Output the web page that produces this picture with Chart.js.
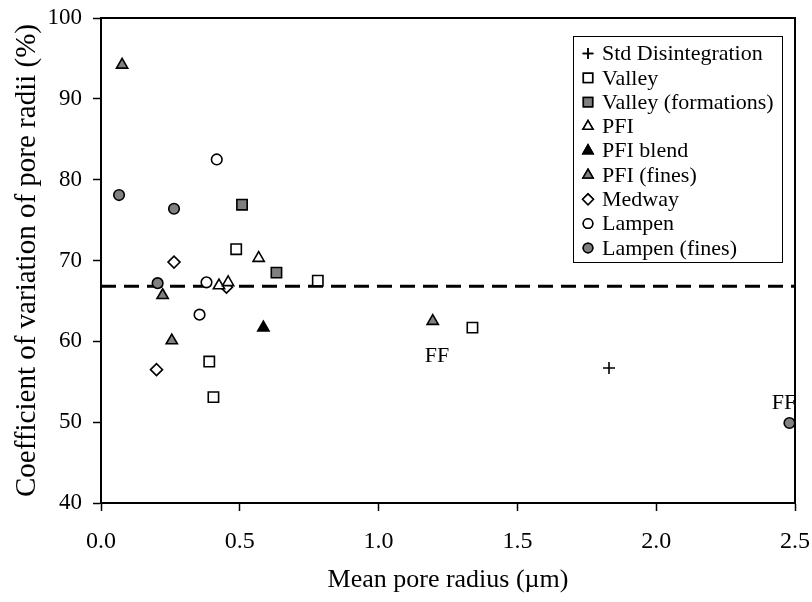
<!DOCTYPE html>
<html>
<head>
<meta charset="utf-8">
<script src="https://cdn.jsdelivr.net/npm/chart.js@4/dist/chart.umd.min.js"></script>
<style>
    html, body { margin: 0; padding: 0; background: #fff; }
    #wrap { width: 812px; height: 602px; }
</style>
</head>
<body>
<div id="wrap"><canvas id="poreChart" width="812" height="602"></canvas></div>
<script>
// Mean pore radius (um) vs coefficient of variation of pore radii (%)
const stdDisintegration = [{ x: 1.83, y: 56.7 }];
const valley = [
    { x: 0.487, y: 71.4 }, { x: 0.39, y: 57.5 }, { x: 0.405, y: 53.1 },
    { x: 0.781, y: 67.5 }, { x: 1.338, y: 61.7 }
];
const valleyFormations = [{ x: 0.508, y: 76.9 }, { x: 0.632, y: 68.5 }];
const pfi = [{ x: 0.568, y: 70.3 }, { x: 0.425, y: 66.9 }, { x: 0.458, y: 67.3 }];
const pfiBlend = [{ x: 0.585, y: 61.7 }];
const pfiFines = [
    { x: 0.076, y: 94.2 }, { x: 0.222, y: 65.7 }, { x: 0.255, y: 60.1 }, { x: 1.195, y: 62.5 }
];
const medway = [{ x: 0.263, y: 69.8 }, { x: 0.2, y: 56.5 }, { x: 0.452, y: 66.7 }];
const lampen = [{ x: 0.417, y: 82.5 }, { x: 0.38, y: 67.3 }, { x: 0.355, y: 63.3 }];
const lampenFines = [
    { x: 0.065, y: 78.1 }, { x: 0.263, y: 76.4 }, { x: 0.204, y: 67.2 }, { x: 2.48, y: 49.9 }
];
const meanLineY = 66.8;
const ffLabels = [{ x: 1.21, y: 58.2, text: 'FF' }, { x: 2.46, y: 52.4, text: 'FF' }];

const GRAY = '#808080';
const SERIF = "'Liberation Serif', 'Times New Roman', serif";

// style per series: [label, data, pointStyle, fill, radius]
const series = [
    ['Std Disintegration', stdDisintegration, 'cross', '#000', 6],
    ['Valley', valley, 'rect', '#fff', 7.3],
    ['Valley (formations)', valleyFormations, 'rect', GRAY, 7.3],
    ['PFI', pfi, 'triangle', '#fff', 6.5],
    ['PFI blend', pfiBlend, 'triangle', '#000', 6.5],
    ['PFI (fines)', pfiFines, 'triangle', GRAY, 6.5],
    ['Medway', medway, 'rectRot', '#fff', 6],
    ['Lampen', lampen, 'circle', '#fff', 5.3],
    ['Lampen (fines)', lampenFines, 'circle', GRAY, 5.3]
];

const datasets = series.map(s => ({
    type: 'scatter',
    label: s[0],
    data: s[1],
    pointStyle: s[2],
    backgroundColor: s[3],
    borderColor: '#000',
    borderWidth: 1.6,
    pointRadius: s[4],
    pointHoverRadius: s[4]
}));

datasets.push({
    type: 'line',
    label: 'mean',
    data: [{ x: 0, y: meanLineY }, { x: 2.5, y: meanLineY }],
    borderColor: '#000',
    borderWidth: 3,
    borderDash: [15, 8],
    pointRadius: 0,
    fill: false
});

function drawMarker(ctx, style, fill, r, x, y) {
    ctx.save();
    ctx.fillStyle = fill;
    ctx.strokeStyle = '#000';
    ctx.lineWidth = 1.5;
    if (Chart.helpers && Chart.helpers.drawPoint) {
        Chart.helpers.drawPoint(ctx, { pointStyle: style, radius: r, rotation: 0, borderWidth: 1.5 }, x, y);
        ctx.fill();
        ctx.stroke();
    }
    ctx.restore();
}

const framePlugin = {
    id: 'frame',
    afterDatasetsDraw(chart) {
        const { ctx, chartArea: a, scales } = chart;

        // FF annotations, clipped to the plot area
        ctx.save();
        ctx.beginPath();
        ctx.rect(a.left, a.top, a.right - a.left, a.bottom - a.top);
        ctx.clip();
        ctx.fillStyle = '#000';
        ctx.font = '22px ' + SERIF;
        ctx.textAlign = 'center';
        ctx.textBaseline = 'middle';
        ffLabels.forEach(l => {
            ctx.fillText(l.text, scales.x.getPixelForValue(l.x), scales.y.getPixelForValue(l.y));
        });
        ctx.restore();

        // top and right border
        ctx.save();
        ctx.strokeStyle = '#000';
        ctx.lineWidth = 2;
        ctx.beginPath();
        ctx.moveTo(a.left, a.top);
        ctx.lineTo(a.right, a.top);
        ctx.lineTo(a.right, a.bottom);
        ctx.stroke();
        ctx.restore();

        // legend box
        const bx = 573, by = 36, bw = 209, bh = 226;
        ctx.save();
        ctx.fillStyle = '#fff';
        ctx.fillRect(bx, by, bw, bh);
        ctx.strokeStyle = '#000';
        ctx.lineWidth = 1;
        ctx.strokeRect(bx + 0.5, by + 0.5, bw, bh);
        ctx.font = '22px ' + SERIF;
        ctx.textBaseline = 'middle';
        ctx.textAlign = 'left';
        series.forEach((s, i) => {
            const cy = by + 17.5 + i * 24.3;
            drawMarker(ctx, s[2], s[3], s[4] * 0.9, bx + 15, cy);
            ctx.fillStyle = '#000';
            ctx.fillText(s[0], bx + 29, cy + 1);
        });
        ctx.restore();
    }
};

new Chart(document.getElementById('poreChart').getContext('2d'), {
    data: { datasets: datasets },
    options: {
        responsive: false,
        animation: false,
        layout: { padding: { left: 0, top: 18, right: 17, bottom: 0 } },
        plugins: {
            legend: { display: false },
            tooltip: { enabled: false }
        },
        scales: {
            x: {
                type: 'linear',
                min: 0,
                max: 2.5,
                afterFit: scale => {
                    scale.height = 99;
                    scale.paddingLeft = 0;
                    scale.paddingRight = 0;
                },
                ticks: {
                    stepSize: 0.5,
                    color: '#000',
                    padding: 16,
                    font: { family: SERIF, size: 24 },
                    callback: v => v.toFixed(1)
                },
                grid: { drawOnChartArea: false, tickLength: 8, tickWidth: 1.5, color: '#000' },
                border: { color: '#000', width: 2 },
                title: {
                    display: true,
                    text: 'Mean pore radius (\u00b5m)',
                    color: '#000',
                    font: { family: SERIF, size: 26 },
                    padding: { top: 0, bottom: 6 }
                }
            },
            y: {
                type: 'linear',
                min: 40,
                max: 100,
                afterFit: scale => {
                    scale.width = 101;
                    scale.paddingTop = 0;
                    scale.paddingBottom = 0;
                },
                ticks: {
                    stepSize: 10,
                    color: '#000',
                    padding: 11,
                    font: { family: SERIF, size: 23 }
                },
                grid: { drawOnChartArea: false, tickLength: 8, tickWidth: 1.5, color: '#000' },
                border: { color: '#000', width: 2 },
                title: {
                    display: true,
                    text: 'Coefficient of variation of pore radii (%)',
                    color: '#000',
                    font: { family: SERIF, size: 29 },
                    padding: { top: 10, bottom: 0 }
                }
            }
        }
    },
    plugins: [framePlugin]
});
</script>
</body>
</html>
